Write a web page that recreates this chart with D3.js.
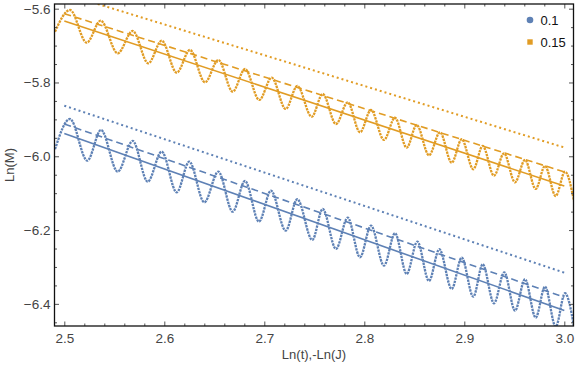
<!DOCTYPE html>
<html>
<head>
<meta charset="utf-8">
<script src="https://cdn.jsdelivr.net/npm/d3@7"></script>
<style>
  html, body { margin: 0; padding: 0; background: #fff; }
  svg { display: block; font-family: "Liberation Sans", Arial, sans-serif; }
</style>
</head>
<body>
<svg id="chart" width="576" height="370"></svg>
<script>
// ---------- data ----------
const seriesNames = ["0.1", "0.15"];
const seriesColors = ["#5E81B5", "#E19C24"];

const blueOscX = [2.4907, 2.5057, 2.5230, 2.5367, 2.5534, 2.5684, 2.5834, 2.5974, 2.6124, 2.6250, 2.6400, 2.6540, 2.6684, 2.6807, 2.6947, 2.7067, 2.7214, 2.7330, 2.7480, 2.7584, 2.7717, 2.7834, 2.7957, 2.8067, 2.8197, 2.8307, 2.8424, 2.8530, 2.8647, 2.8750, 2.8874, 2.8974, 2.9090, 2.9184, 2.9297, 2.9400, 2.9507, 2.9607, 2.9714, 2.9807, 2.9914, 3.0007, 3.0097];
const blueOscY = [-5.9810, -5.8989, -6.0119, -5.9287, -6.0417, -5.9585, -6.0688, -5.9875, -6.0976, -6.0146, -6.1247, -6.0417, -6.1501, -6.0669, -6.1772, -6.0932, -6.2016, -6.1165, -6.2268, -6.1428, -6.2512, -6.1664, -6.2737, -6.1881, -6.2965, -6.2087, -6.3190, -6.2314, -6.3379, -6.2520, -6.3596, -6.2748, -6.3805, -6.2927, -6.3984, -6.3144, -6.4184, -6.3333, -6.4374, -6.3534, -6.4620, -6.3713, -6.4610];

const orangeOscX = [2.4907, 2.5057, 2.5224, 2.5364, 2.5534, 2.5684, 2.5840, 2.5974, 2.6124, 2.6257, 2.6407, 2.6540, 2.6684, 2.6807, 2.6950, 2.7074, 2.7214, 2.7330, 2.7474, 2.7584, 2.7717, 2.7834, 2.7957, 2.8067, 2.8197, 2.8307, 2.8424, 2.8524, 2.8647, 2.8757, 2.8874, 2.8974, 2.9090, 2.9184, 2.9297, 2.9397, 2.9507, 2.9607, 2.9714, 2.9807, 2.9914, 3.0007, 3.0097];
const orangeOscY = [-5.6623, -5.6035, -5.6921, -5.6325, -5.7209, -5.6604, -5.7480, -5.6867, -5.7734, -5.7119, -5.7995, -5.7390, -5.8249, -5.7634, -5.8474, -5.7870, -5.8718, -5.8095, -5.8927, -5.8312, -5.9125, -5.8537, -5.9350, -5.8745, -5.9558, -5.8954, -5.9767, -5.9152, -5.9973, -5.9350, -6.0173, -5.9539, -6.0352, -5.9721, -6.0526, -5.9919, -6.0705, -6.0100, -6.0886, -6.0263, -6.1076, -6.0417, -6.1211];

// straight reference lines (endpoints)
const lineX = [2.5, 3.0];
const blueSolid   = [-5.9385, -6.4179];
const blueDashed  = [-5.9125, -6.3821];
const blueDotted  = [-5.8629, -6.3154];
const orangeSolid  = [-5.6333, -6.0808];
const orangeDashed = [-5.6136, -6.0423];
const orangeDotted = [-5.5593, -5.9762];

// ticks
const xMajorTicks = [2.5, 2.6, 2.7, 2.8, 2.9, 3.0];
const xMinorTicks = [2.52, 2.54, 2.56, 2.58, 2.62, 2.64, 2.66, 2.68, 2.72, 2.74, 2.76, 2.78, 2.82, 2.84, 2.86, 2.88, 2.92, 2.94, 2.96, 2.98];
const yMajorTicks = [-6.4, -6.2, -6.0, -5.8, -5.6];
const yMinorTicks = [-6.45, -6.35, -6.3, -6.25, -6.15, -6.1, -6.05, -5.95, -5.9, -5.85, -5.75, -5.7, -5.65];

const xLabel = "Ln(t),-Ln(J)";
const yLabel = "Ln(M)";

// ---------- layout ----------
const L = 54.5, R = 573.5, T = 4, B = 326;
const x = d3.scaleLinear().domain([2.4902, 3.0092]).range([L, R]);
const y = d3.scaleLinear().domain([-6.46, -5.5873]).range([B, T]);

const svg = d3.select("#chart");

svg.append("defs").append("clipPath").attr("id", "clip")
  .append("rect").attr("x", L).attr("y", T).attr("width", R - L).attr("height", B - T);

const plot = svg.append("g").attr("clip-path", "url(#clip)");

const osc = d3.line().x(d => x(d[0])).y(d => y(d[1])).curve(d3.curveMonotoneX);
const straight = d3.line().x(d => x(d[0])).y(d => y(d[1]));

function addLine(xs, ys, color, dash, width) {
  plot.append("path")
    .datum(xs.map((v, i) => [v, ys[i]]))
    .attr("d", straight)
    .attr("fill", "none")
    .attr("stroke", color)
    .attr("stroke-width", width)
    .attr("stroke-dasharray", dash);
}

// straight lines
addLine(lineX, orangeDotted, seriesColors[1], "2 3", 2);
addLine(lineX, orangeDashed, seriesColors[1], "7 4", 1.6);
addLine(lineX, orangeSolid, seriesColors[1], null, 1.6);
addLine(lineX, blueDotted, seriesColors[0], "2 3", 2);
addLine(lineX, blueDashed, seriesColors[0], "7 4", 1.6);
addLine(lineX, blueSolid, seriesColors[0], null, 1.6);

// oscillating sampled curves
[[blueOscX, blueOscY, seriesColors[0]], [orangeOscX, orangeOscY, seriesColors[1]]].forEach(([xs, ys, c]) => {
  plot.append("path")
    .datum(xs.map((v, i) => [v, ys[i]]))
    .attr("d", osc)
    .attr("fill", "none")
    .attr("stroke", c)
    .attr("stroke-width", 2.3)
    .attr("stroke-dasharray", "2.4 0.9");
});

// ---------- frame & axes ----------
const tickColor = "#555";
const labelColor = "#444";

function styleAxis(g) {
  g.select(".domain").remove();
  g.selectAll("line").attr("stroke", tickColor);
  g.selectAll("text").attr("fill", labelColor).style("font-size", "13.5px")
   .style("font-family", "'Liberation Sans', Arial, sans-serif");
}

const fmt = d3.format(".1f");

// bottom
svg.append("g").attr("transform", `translate(0,${B})`)
  .call(d3.axisBottom(x).tickValues(xMajorTicks).tickFormat(fmt).tickSize(-4.5).tickPadding(7))
  .call(styleAxis);
svg.append("g").attr("transform", `translate(0,${B})`)
  .call(d3.axisBottom(x).tickValues(xMinorTicks).tickFormat("").tickSize(-2.5))
  .call(styleAxis);
// top
svg.append("g").attr("transform", `translate(0,${T})`)
  .call(d3.axisTop(x).tickValues(xMajorTicks).tickFormat("").tickSize(-4.5))
  .call(styleAxis);
svg.append("g").attr("transform", `translate(0,${T})`)
  .call(d3.axisTop(x).tickValues(xMinorTicks).tickFormat("").tickSize(-2.5))
  .call(styleAxis);
// left
svg.append("g").attr("transform", `translate(${L},0)`)
  .call(d3.axisLeft(y).tickValues(yMajorTicks).tickFormat(fmt).tickSize(-4.5).tickPadding(4))
  .call(styleAxis);
svg.append("g").attr("transform", `translate(${L},0)`)
  .call(d3.axisLeft(y).tickValues(yMinorTicks).tickFormat("").tickSize(-2.5))
  .call(styleAxis);
// right
svg.append("g").attr("transform", `translate(${R},0)`)
  .call(d3.axisRight(y).tickValues(yMajorTicks).tickFormat("").tickSize(-4.5))
  .call(styleAxis);
svg.append("g").attr("transform", `translate(${R},0)`)
  .call(d3.axisRight(y).tickValues(yMinorTicks).tickFormat("").tickSize(-2.5))
  .call(styleAxis);

svg.append("rect")
  .attr("x", L).attr("y", T).attr("width", R - L).attr("height", B - T)
  .attr("fill", "none").attr("stroke", "#111").attr("stroke-width", 1.3);

// axis labels
svg.append("text")
  .attr("x", (L + R) / 2).attr("y", 359)
  .attr("text-anchor", "middle")
  .attr("fill", labelColor).style("font-size", "13px")
  .text(xLabel);
svg.append("text")
  .attr("transform", `translate(14,${(T + B) / 2}) rotate(-90)`)
  .attr("text-anchor", "middle")
  .attr("fill", labelColor).style("font-size", "13px")
  .text(yLabel);

// legend
const legend = svg.append("g");
legend.append("circle").attr("cx", 530).attr("cy", 20).attr("r", 3.3).attr("fill", seriesColors[0]);
legend.append("rect").attr("x", 527.3).attr("y", 39.3).attr("width", 5.4).attr("height", 5.4).attr("fill", seriesColors[1]);
legend.selectAll("text.lg").data(seriesNames).enter().append("text")
  .attr("class", "lg")
  .attr("x", 540.5).attr("y", (d, i) => 20 + i * 22)
  .attr("dy", "0.35em")
  .attr("fill", "#111").style("font-size", "13px")
  .text(d => d);
</script>
</body>
</html>
